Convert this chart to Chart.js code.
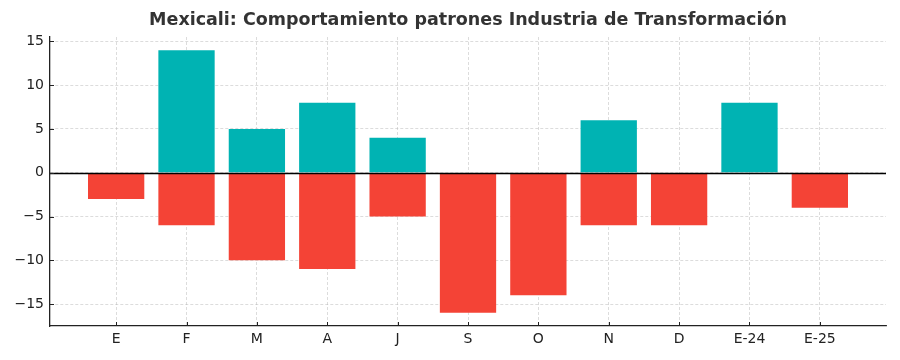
<!DOCTYPE html>
<html>
<head>
<meta charset="utf-8">
<script src="https://cdn.jsdelivr.net/npm/chart.js@4/dist/chart.umd.min.js"></script>
<style>
    html, body { margin: 0; padding: 0; background: #fff; }
    #wrap { width: 900px; height: 360px; }
</style>
</head>
<body>
<div id="wrap"><canvas id="patrones-chart"></canvas></div>
<script>
const labels = ['E', 'F', 'M', 'A', 'J', 'S', 'O', 'N', 'D', 'E-24', 'E-25']
const altas = [0, 14, 5, 8, 4, 0, 0, 6, 0, 8, 0]
const bajas = [-3, -6, -10, -11, -5, -16, -14, -6, -6, 0, -4]
const yTicks = [-15, -10, -5, 0, 5, 10, 15]

const gridColor = 'rgba(175, 175, 175, 0.55)'
const font = { family: 'DejaVu Sans', size: 14 }

// zero line + matplotlib style inward ticks
const extras = {
    id: 'extras',
    afterDraw(chart) {
        const ctx = chart.ctx
        const x = chart.scales.x
        const y = chart.scales.y
        const area = chart.chartArea
        ctx.save()
        ctx.strokeStyle = '#000'
        ctx.lineWidth = 1.3
        const y0 = Math.round(y.getPixelForValue(0)) + 0.5
        ctx.beginPath()
        ctx.moveTo(area.left, y0)
        ctx.lineTo(area.right, y0)
        ctx.stroke()
        ctx.lineWidth = 1
        ctx.strokeStyle = '#222'
        y.ticks.forEach(t => {
            const p = Math.round(y.getPixelForValue(t.value)) + 0.5
            ctx.beginPath()
            ctx.moveTo(area.left, p)
            ctx.lineTo(area.left + 4, p)
            ctx.stroke()
        })
        x.ticks.forEach(t => {
            const p = Math.round(x.getPixelForValue(t.value)) + 0.5
            ctx.beginPath()
            ctx.moveTo(p, area.bottom)
            ctx.lineTo(p, area.bottom - 4)
            ctx.stroke()
        })
        ctx.restore()
    }
}

const ctx = document.getElementById('patrones-chart').getContext('2d')
const chart = new Chart(ctx, {
    type: 'bar',
    data: {
        datasets: [{
            label: 'Altas',
            data: altas.map((v, i) => ({ x: i, y: v })),
            backgroundColor: '#00b3b3',
            borderWidth: 0
        }, {
            label: 'Bajas',
            data: bajas.map((v, i) => ({ x: i, y: v })),
            backgroundColor: '#f44336',
            borderWidth: 0
        }]
    },
    options: {
        responsive: true,
        maintainAspectRatio: false,
        animation: false,
        categoryPercentage: 1,
        barPercentage: 0.8,
        layout: {
            padding: { left: 0, right: 14, top: 0, bottom: 0 }
        },
        plugins: {
            legend: { display: false },
            tooltip: { enabled: false },
            title: {
                display: true,
                fullSize: false,
                text: 'Mexicali: Comportamiento patrones Industria de Transformación',
                color: '#333',
                font: { family: 'DejaVu Sans', size: 17.5, weight: 'bold', lineHeight: 1.2 },
                padding: { top: 10, bottom: 6 }
            }
        },
        scales: {
            x: {
                type: 'linear',
                stacked: true,
                offset: false,
                min: -0.94,
                max: 10.94,
                z: 1,
                afterBuildTicks(scale) {
                    scale.ticks = labels.map((l, i) => ({ value: i }))
                },
                afterFit(scale) {
                    scale.height = 34
                },
                ticks: {
                    color: '#222',
                    font: font,
                    padding: 5,
                    maxRotation: 0,
                    autoSkip: false,
                    callback: (v) => labels[v]
                },
                grid: {
                    color: gridColor,
                    lineWidth: 0.8,
                    drawTicks: false,
                    offset: false
                },
                border: {
                    display: true,
                    color: '#222',
                    width: 1.3,
                    dash: [3, 2]
                }
            },
            y: {
                stacked: true,
                min: -17.5,
                max: 15.5,
                z: 1,
                afterBuildTicks(scale) {
                    scale.ticks = yTicks.map(v => ({ value: v }))
                },
                afterFit(scale) {
                    scale.width = 50
                },
                ticks: {
                    color: '#222',
                    font: font,
                    padding: 6,
                    callback: (v) => v < 0 ? '\u2212' + Math.abs(v) : String(v)
                },
                grid: {
                    color: gridColor,
                    lineWidth: 0.8,
                    drawTicks: false
                },
                border: {
                    display: true,
                    color: '#222',
                    width: 1.3,
                    dash: [3, 2]
                }
            }
        }
    },
    plugins: [extras]
})
</script>
</body>
</html>
